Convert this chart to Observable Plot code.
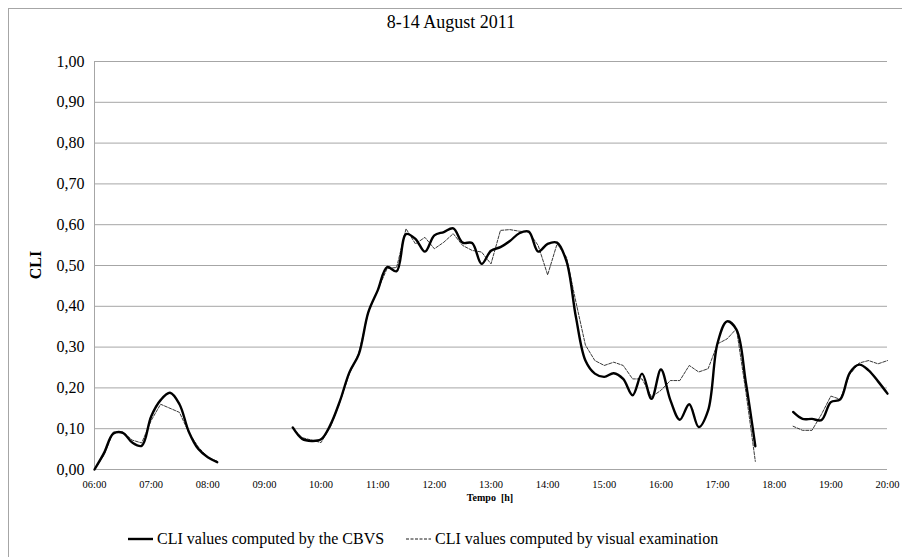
<!DOCTYPE html>
<html>
<head>
<meta charset="utf-8">
<script src="https://cdn.jsdelivr.net/npm/d3@7"></script>
<script src="https://cdn.jsdelivr.net/npm/@observablehq/plot@0.6"></script>
<style>
  html, body { margin: 0; padding: 0; background: #fff; }
  #wrap { position: relative; width: 902px; height: 557px; overflow: hidden; font-family: "Liberation Serif", "Times New Roman", serif; color: #000; }
  #frame { position: absolute; left: 8px; top: 8px; right: -2px; bottom: -2px; border-left: 1px solid #a6a6a6; border-top: 1px solid #a6a6a6; }
  #title { position: absolute; left: 0; width: 902px; top: 12px; text-align: center; font-size: 18px; }
  #chart { position: absolute; left: 0; top: 0; }
  #ylab { position: absolute; left: 36px; top: 265px; transform: translate(-50%, -50%) rotate(-90deg); font-size: 16px; font-weight: bold; }
  #xlab { position: absolute; left: 490px; top: 492px; transform: translateX(-50%); font-size: 10px; line-height: 11px; font-weight: bold; }
  #legend { position: absolute; top: 530px; left: 128px; font-size: 16px; white-space: nowrap; display: flex; align-items: center; }
  #legend .item { display: flex; align-items: center; }
  #legend svg { margin-right: 4px; }
</style>
</head>
<body>
<div id="wrap">
  <div id="frame"></div>
  <div id="title">8-14 August 2011</div>
  <div id="chart"></div>
  <div id="ylab">CLI</div>
  <div id="xlab">Tempo&nbsp; [h]</div>
  <div id="legend"></div>
</div>
<script>
// Each observation block starts at the listed time; samples every 10 minutes.
const segmentStarts = ["06:00", "09:30", "18:20"];

// CLI computed by the CBVS (smoothed solid line)
const cbvsMorning = [0.000, 0.040, 0.088, 0.090, 0.066, 0.058, 0.130, 0.170, 0.188, 0.160, 0.092, 0.050, 0.030, 0.018];
const cbvsDay = [
  0.103, 0.075, 0.070,
  0.074, 0.110, 0.168, 0.238, 0.283, 0.385,
  0.439, 0.496, 0.486, 0.577, 0.565, 0.534,
  0.574, 0.582, 0.591, 0.556, 0.555, 0.504,
  0.536, 0.545, 0.560, 0.579, 0.583, 0.534,
  0.553, 0.556, 0.510, 0.373, 0.267, 0.235,
  0.227, 0.236, 0.222, 0.182, 0.235, 0.173,
  0.245, 0.170, 0.122, 0.160, 0.104, 0.145,
  0.310, 0.363, 0.343, 0.213, 0.057
];
const cbvsEvening = [0.141, 0.124, 0.124, 0.121, 0.165, 0.172, 0.237, 0.257, 0.243, 0.216, 0.186];

// CLI from visual examination (thin dashed line)
const visualMorning = [0.000, 0.035, 0.092, 0.092, 0.072, 0.065, 0.120, 0.160, 0.150, 0.140, 0.090, 0.055, 0.030, 0.020];
const visualDay = [
  0.100, 0.078, 0.072,
  0.066, 0.105, 0.165, 0.235, 0.285, 0.385,
  0.440, 0.493, 0.495, 0.590, 0.553, 0.569,
  0.541, 0.557, 0.578, 0.549, 0.537, 0.533,
  0.504, 0.586, 0.588, 0.584, 0.582, 0.549,
  0.477, 0.553, 0.520, 0.410, 0.305, 0.267,
  0.255, 0.263, 0.255, 0.222, 0.222, 0.178,
  0.194, 0.218, 0.218, 0.255, 0.239, 0.247,
  0.308, 0.320, 0.345, 0.190, 0.020
];
const visualEvening = [0.106, 0.096, 0.096, 0.135, 0.180, 0.172, 0.233, 0.261, 0.267, 0.259, 0.267];

const hourTicks = ["06:00","07:00","08:00","09:00","10:00","11:00","12:00","13:00","14:00","15:00","16:00","17:00","18:00","19:00","20:00"];
const yTicks = [0, 0.1, 0.2, 0.3, 0.4, 0.5, 0.6, 0.7, 0.8, 0.9, 1.0];

const toTime = s => { const [h, m] = s.split(":").map(Number); return new Date(Date.UTC(2011, 7, 8, h, m)); };

function rows(segments) {
  const out = [];
  segments.forEach((vals, i) => {
    const t0 = toTime(segmentStarts[i]);
    vals.forEach((v, k) => out.push({ seg: i, time: new Date(+t0 + k * 600000), cli: v }));
  });
  return out;
}
const cbvsRows = rows([cbvsMorning, cbvsDay, cbvsEvening]);
const visualRows = rows([visualMorning, visualDay, visualEvening]);

const grid = "#a6a6a6";
const chart = Plot.plot({
  width: 902,
  height: 510,
  marginLeft: 94,
  marginRight: 15,
  marginTop: 61,
  marginBottom: 41,
  style: { fontFamily: "'Liberation Serif', 'Times New Roman', serif", background: "transparent", color: "#000" },
  x: { type: "utc", domain: [toTime("06:00"), toTime("20:00")] },
  y: { domain: [0, 1] },
  marks: [
    Plot.gridY(yTicks.filter(d => d > 0), { stroke: grid, strokeOpacity: 1, strokeWidth: 1 }),
    Plot.ruleY([0], { stroke: grid, strokeWidth: 1 }),
    Plot.ruleX([toTime("06:00")], { stroke: grid, strokeWidth: 1 }),
    Plot.axisY({ ticks: yTicks, tickSize: 0, tickPadding: 10, fontSize: 16, label: null,
                 tickFormat: d => d.toFixed(2).replace(".", ",") }),
    Plot.axisX({ ticks: hourTicks.map(toTime), tickSize: 0, tickPadding: 11, fontSize: 10.5, label: null,
                 tickFormat: d3.utcFormat("%H:%M") }),
    Plot.line(visualRows, { x: "time", y: "cli", z: "seg", stroke: "#222", strokeWidth: 0.9, strokeDasharray: "3,1.5" }),
    Plot.line(cbvsRows, { x: "time", y: "cli", z: "seg", curve: "catmull-rom", stroke: "#000", strokeWidth: 2.4 })
  ]
});
document.getElementById("chart").append(chart);

// Legend
const legend = document.getElementById("legend");
[
  { label: "CLI values computed by the CBVS", width: 2.4, dash: null, gap: 0 },
  { label: "CLI values computed by visual examination", width: 0.9, dash: "3,1.5", gap: 22 }
].forEach(d => {
  const item = document.createElement("div");
  item.className = "item";
  item.style.marginLeft = d.gap + "px";
  const ns = "http://www.w3.org/2000/svg";
  const svg = document.createElementNS(ns, "svg");
  svg.setAttribute("width", 25); svg.setAttribute("height", 10);
  const ln = document.createElementNS(ns, "line");
  ln.setAttribute("x1", 0); ln.setAttribute("x2", 25); ln.setAttribute("y1", 5); ln.setAttribute("y2", 5);
  ln.setAttribute("stroke", "#000"); ln.setAttribute("stroke-width", d.width);
  if (d.dash) ln.setAttribute("stroke-dasharray", d.dash);
  svg.append(ln);
  const span = document.createElement("span");
  span.textContent = d.label;
  item.append(svg, span);
  legend.append(item);
});
</script>
</body>
</html>
